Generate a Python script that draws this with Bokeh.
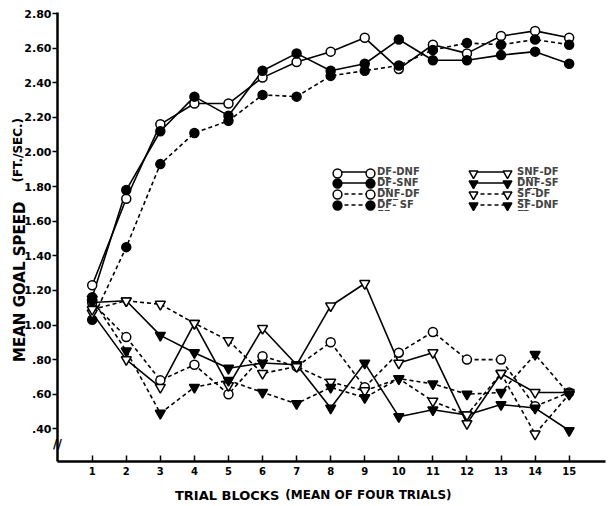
from bokeh.plotting import figure
from bokeh.models import Range1d, FixedTicker, Label, Legend, LegendItem
from bokeh.embed import file_html
from bokeh.resources import INLINE

# ---------------- data ----------------
trials = list(range(1, 16))

df_dnf = [1.23, 1.73, 2.16, 2.28, 2.28, 2.43, 2.52, 2.58, 2.66, 2.48, 2.62, 2.57, 2.67, 2.70, 2.66]
df_snf = [1.16, 1.78, 2.12, 2.32, 2.21, 2.47, 2.57, 2.47, 2.51, 2.65, 2.53, 2.53, 2.56, 2.58, 2.51]
dnf_df = [1.13, 0.93, 0.68, 0.77, 0.60, 0.82, 0.76, 0.90, 0.64, 0.84, 0.96, 0.80, 0.80, 0.53, 0.61]
df_sf = [1.03, 1.45, 1.93, 2.11, 2.18, 2.33, 2.32, 2.44, 2.47, 2.50, 2.59, 2.63, 2.62, 2.65, 2.62]
snf_df = [1.07, 0.80, 0.64, 1.01, 0.65, 0.98, 0.77, 1.11, 1.24, 0.78, 0.84, 0.43, 0.72, 0.61, 0.61]
dnf_sf = [1.13, 1.14, 0.94, 0.84, 0.75, 0.78, 0.77, 0.52, 0.78, 0.47, 0.51, 0.48, 0.54, 0.52, 0.39]
sf_df = [1.09, 1.14, 1.12, 1.01, 0.91, 0.72, 0.76, 0.67, 0.62, 0.69, 0.56, 0.48, 0.72, 0.37, 0.60]
sf_dnf = [1.15, 0.85, 0.49, 0.64, 0.68, 0.61, 0.545, 0.64, 0.58, 0.69, 0.66, 0.60, 0.61, 0.83, 0.60]

U = "\u0332"
def ul(s):
    return "".join(c + U for c in s)

labels_col1 = [ul("DF") + "-DNF", ul("DF") + "-SNF", ul("DNF") + "-DF", ul("DF") + "- SF"]
labels_col2 = [ul("SNF") + "-DF", ul("DNF") + "-SF", ul("SF") + "-DF", ul("SF") + "-DNF"]

y_ticks = [0.40, 0.60, 0.80, 1.00, 1.20, 1.40, 1.60, 1.80, 2.00, 2.20, 2.40, 2.60, 2.80]
y_tick_labels = [".40", ".60", ".80", "1.00", "1.20", "1.40", "1.60", "1.80",
                 "2.00", "2.20", "2.40", "2.60", "2.80"]

series_col1 = [df_dnf, df_snf, dnf_df, df_sf]
series_col2 = [snf_df, dnf_sf, sf_df, sf_dnf]

# styles (marker, filled, dashed)
styles_col1 = [("circle", False, False), ("circle", True, False),
               ("circle", False, True), ("circle", True, True)]
styles_col2 = [("inverted_triangle", False, False), ("inverted_triangle", True, False),
               ("inverted_triangle", False, True), ("inverted_triangle", True, True)]

FONT = "DejaVu Sans"

# axis extents (data units)
X_LO, X_HI = -0.02, 16.07
Y_LO, Y_HI = 0.211, 2.806

p = figure(width=612, height=506, output_backend="svg", toolbar_location=None,
           x_range=Range1d(-1.6915, 16.272), y_range=Range1d(-0.0491, 2.8757),
           min_border=0)
p.outline_line_color = None
p.grid.visible = False
p.background_fill_color = "white"

# axes, drawn at fixed positions inside the (full-canvas) frame
p.xaxis.fixed_location = Y_LO
p.xaxis.bounds = (X_LO, X_HI)
p.xaxis.ticker = FixedTicker(ticks=trials)
p.xaxis.major_tick_in = 6
p.xaxis.major_tick_out = 0
p.xaxis.minor_tick_line_color = None
p.xaxis.axis_line_width = 2.5
p.xaxis.major_tick_line_width = 1.5
p.xaxis.major_label_standoff = 5
p.xaxis.major_label_text_font = FONT
p.xaxis.major_label_text_font_style = "bold"
p.xaxis.major_label_text_font_size = "10px"
p.xaxis.major_label_text_color = "black"

p.yaxis.fixed_location = X_LO
p.yaxis.bounds = (Y_LO, Y_HI)
p.yaxis.ticker = FixedTicker(ticks=y_ticks)
p.yaxis.major_label_overrides = dict(zip(y_ticks, y_tick_labels))
p.yaxis.major_tick_in = 0
p.yaxis.major_tick_out = 5
p.yaxis.minor_tick_line_color = None
p.yaxis.axis_line_width = 2.5
p.yaxis.major_tick_line_width = 1.5
p.yaxis.major_label_standoff = 1
p.yaxis.major_label_text_font = FONT
p.yaxis.major_label_text_font_style = "bold"
p.yaxis.major_label_text_font_size = "11px"
p.yaxis.major_label_text_color = "black"

line_rs = []
all_series = series_col1 + series_col2
all_styles = styles_col1 + styles_col2
for ys, (mk, filled, dashed) in zip(all_series, all_styles):
    lr = p.line(trials, ys, line_color="black", line_width=1.6,
                line_dash="4 3" if dashed else "solid")
    line_rs.append(lr)
scat_rs = []
for ys, (mk, filled, dashed) in zip(all_series, all_styles):
    sz = 9 if mk == "circle" else 10
    sr = p.scatter(trials, ys, marker=mk, size=sz, line_color="black", line_width=1.5,
                   fill_color="black" if filled else "white")
    scat_rs.append(sr)

# ---- legend: a line sample with a marker at each end ----
CANVAS_H = 506
ROW_TOP = 172.7   # centre of first legend row (px from top)
ROW = 10.8        # row pitch
GH = 22           # marker glyph box (sets the legend marker size)

common = dict(padding=0, margin=0, border_line_color=None, background_fill_alpha=0)

def text_legend(labels, idx0, x, gw, standoff):
    items = [LegendItem(label=lab, renderers=[line_rs[idx0 + i]])
             for i, lab in enumerate(labels)]
    bottom = ROW_TOP - ROW / 2 + 4 * ROW
    return Legend(items=items, location=(x, round(CANVAS_H - bottom)),
                  orientation="vertical", glyph_width=gw, glyph_height=11,
                  label_height=11, spacing=0, label_standoff=standoff,
                  label_text_font=FONT, label_text_font_style="bold",
                  label_text_font_size="10px", label_text_baseline="middle", **common)

def marker_legends(idx0, x, gap):
    out = []
    for i in range(4):
        sr = scat_rs[idx0 + i]
        items = [LegendItem(label=" ", renderers=[sr]), LegendItem(label=" ", renderers=[sr])]
        centre = ROW_TOP + i * ROW
        out.append(Legend(items=items, location=(x, round(CANVAS_H - centre - GH / 2)),
                          orientation="horizontal", glyph_width=GH, glyph_height=GH,
                          label_height=GH, label_width=0, spacing=gap, label_standoff=0,
                          label_text_font_size="1px", **common))
    return out

p.add_layout(text_legend(labels_col1, 0, 337, 33, 7))
p.add_layout(text_legend(labels_col2, 4, 473, 34, 10))
for lg in marker_legends(0, 326, 11) + marker_legends(4, 462, 12):
    p.add_layout(lg)

def lab(**kw):
    return Label(text_font=FONT, text_font_style="bold", text_color="black", **kw)

p.add_layout(lab(x=4.96, y=0.015, text="TRIAL BLOCKS", text_font_size="13px",
                 text_align="center", text_baseline="alphabetic"))
p.add_layout(lab(x=6.67, y=0.015, text="(MEAN OF FOUR TRIALS)", text_font_size="12px",
                 text_align="left", text_baseline="alphabetic"))
p.add_layout(lab(x=-1.13, y=1.25, text="MEAN GOAL SPEED", text_font_size="15px",
                 angle=1.5708, text_align="center", text_baseline="middle"))
p.add_layout(lab(x=-1.17, y=2.01, text="(FT./SEC.)", text_font_size="12px",
                 angle=1.5708, text_align="center", text_baseline="middle"))
# axis break mark
p.add_layout(lab(x=X_LO, y=0.315, text="//", text_font_size="12px",
                 text_align="center", text_baseline="middle"))

open("out.html", "w").write(file_html(p, INLINE))
